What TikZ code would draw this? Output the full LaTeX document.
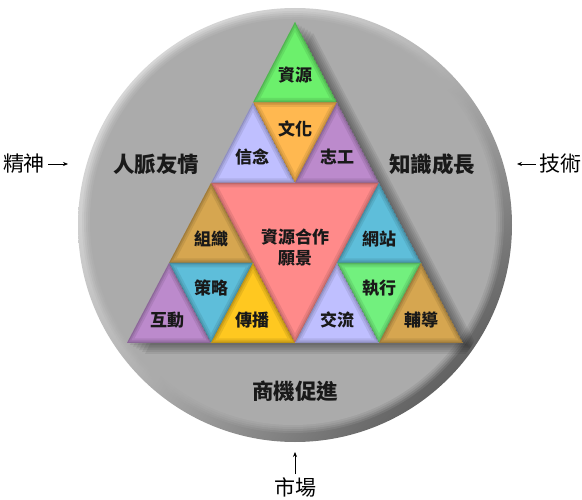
\documentclass[tikz,border=0pt]{standalone}
\usepackage{fontspec}
\newfontfamily\cjk{Noto Sans CJK TC}
\usetikzlibrary{arrows.meta,calc,shadings}
\definecolor{cGreen}{HTML}{6CF06C}
\definecolor{cOrange}{HTML}{FFB850}
\definecolor{cLav}{HTML}{BFBFFF}
\definecolor{cPurp}{HTML}{BC8ACC}
\definecolor{cRed}{HTML}{FF8A8A}
\definecolor{cTan}{HTML}{D6A650}
\definecolor{cCyan}{HTML}{5EBEDA}
\definecolor{cYellow}{HTML}{FFC820}
\definecolor{cGreenB}{HTML}{72F07E}
\definecolor{rimLight}{HTML}{E6E6E6}
\definecolor{rimMid}{HTML}{B8B8B8}
\definecolor{rimDark}{HTML}{404040}
\definecolor{disk}{HTML}{ABABAB}
\newcommand{\mytri}[4]{%
  \begin{scope}
    \clip #1 -- #2 -- #3 -- cycle;
    \fill[#4] #1 -- #2 -- #3 -- cycle;
    \draw[#4!55!black, line width=9pt, opacity=.18] #1 -- #2 -- #3 -- cycle;
    \draw[#4!55!black, line width=5pt, opacity=.22] #1 -- #2 -- #3 -- cycle;
    \draw[#4!55!black, line width=2pt, opacity=.3] #1 -- #2 -- #3 -- cycle;
  \end{scope}}
\tikzset{
  tlab/.style={font=\cjk\bfseries\fontsize{17}{21}\selectfont, text=black!90, inner sep=0pt, align=center},
  blab/.style={font=\cjk\bfseries\fontsize{21.5}{25}\selectfont, text=black!90, inner sep=0pt},
  olab/.style={font=\cjk\fontsize{21}{25}\selectfont, text=black, inner sep=0pt},
  arr/.style={-{Stealth[length=5pt,width=4pt]}, line width=0.7pt, black}
}
\begin{document}
\begin{tikzpicture}[x=1pt,y=-1pt]
\useasboundingbox (0,0) rectangle (582,500);
\fill[white] (0,0) rectangle (582,500);
% circle with bevel
\shade[upper left=rimLight, upper right=rimMid, lower left=rimMid, lower right=rimDark] (295,225) circle (217);
\foreach \r/\o in {211/0.2,209/0.3,207/0.4,205/0.5}{
  \fill[disk, opacity=\o] (293,222) circle (\r);
}
\fill[disk] (293,222) circle (203);
% triangle shadow
\begin{scope}
  \clip (295,225) circle (214);
  \foreach \d in {3,6,9,12,15,18}{
    \fill[black, opacity=0.07] ($(295,22)+(\d,0.6*\d)$) -- ($(127,343)+(\d,0.6*\d)$) -- ($(463,343)+(\d,0.6*\d)$) -- cycle;
  }
\end{scope}
% vertices
\coordinate (A) at (295,22);
\coordinate (BL) at (127,343);
\coordinate (BR) at (463,343);
\coordinate (ML) at (211,183);
\coordinate (MR) at (379,183);
\coordinate (MB) at (295,343);
\coordinate (MC) at (295,183);
\coordinate (T1) at (253,102.5);
\coordinate (T2) at (337,102.5);
\coordinate (L1) at (169,263);
\coordinate (L2) at (253,263);
\coordinate (L3) at (211,343);
\coordinate (R1) at (337,263);
\coordinate (R2) at (421,263);
\coordinate (R3) at (379,343);
% top group
\mytri{(A)}{(T1)}{(T2)}{cGreen}
\mytri{(T1)}{(T2)}{(MC)}{cOrange}
\mytri{(T1)}{(ML)}{(MC)}{cLav}
\mytri{(T2)}{(MC)}{(MR)}{cPurp}
% centre
\mytri{(ML)}{(MR)}{(MB)}{cRed}
% bottom-left group
\mytri{(ML)}{(L1)}{(L2)}{cTan}
\mytri{(L1)}{(L2)}{(L3)}{cCyan}
\mytri{(L1)}{(BL)}{(L3)}{cPurp}
\mytri{(L2)}{(L3)}{(MB)}{cYellow}
% bottom-right group
\mytri{(MR)}{(R1)}{(R2)}{cCyan}
\mytri{(R1)}{(R2)}{(R3)}{cGreenB}
\mytri{(R1)}{(MB)}{(R3)}{cLav}
\mytri{(R2)}{(R3)}{(BR)}{cTan}
% labels
\node[tlab] (zy) at (295,75) {資源};
\node[tlab] (wh) at (295,129) {文化};
\node[tlab] (xn) at (252,157) {信念};
\node[tlab] (zg) at (337,157) {志工};
\node[tlab] (zz) at (211,239) {組織};
\node[tlab] (hz) at (295,247) {資源合作\\願景};
\node[tlab] (wz) at (379,239) {網站};
\node[tlab] (cl) at (211,288) {策略};
\node[tlab] (zx) at (379,288) {執行};
\node[tlab] (hd) at (167,320) {互動};
\node[tlab] (cb) at (252,320) {傳播};
\node[tlab] (jl) at (337,320) {交流};
\node[tlab] (fd) at (421,320) {輔導};
\node[blab] (rm) at (156,164) {人脈友情};
\node[blab] (zs) at (432,164) {知識成長};
\node[blab] (sj) at (295,391) {商機促進};
% outside labels with arrows
\node[olab] (js) at (24,164) {精神};
\coordinate (jsT) at (68,164);
\draw[arr] (js.east) ++(3,0) -- (jsT);
\node[olab] (jsh) at (560,164) {技術};
\coordinate (jshT) at (517,164);
\draw[arr] (jsh.west) ++(-3,0) -- (jshT);
\node[olab] (sc) at (295,487) {市場};
\coordinate (scT) at (295,452);
\draw[arr] (sc.north) ++(0,-3) -- (scT);
\end{tikzpicture}
\end{document}
